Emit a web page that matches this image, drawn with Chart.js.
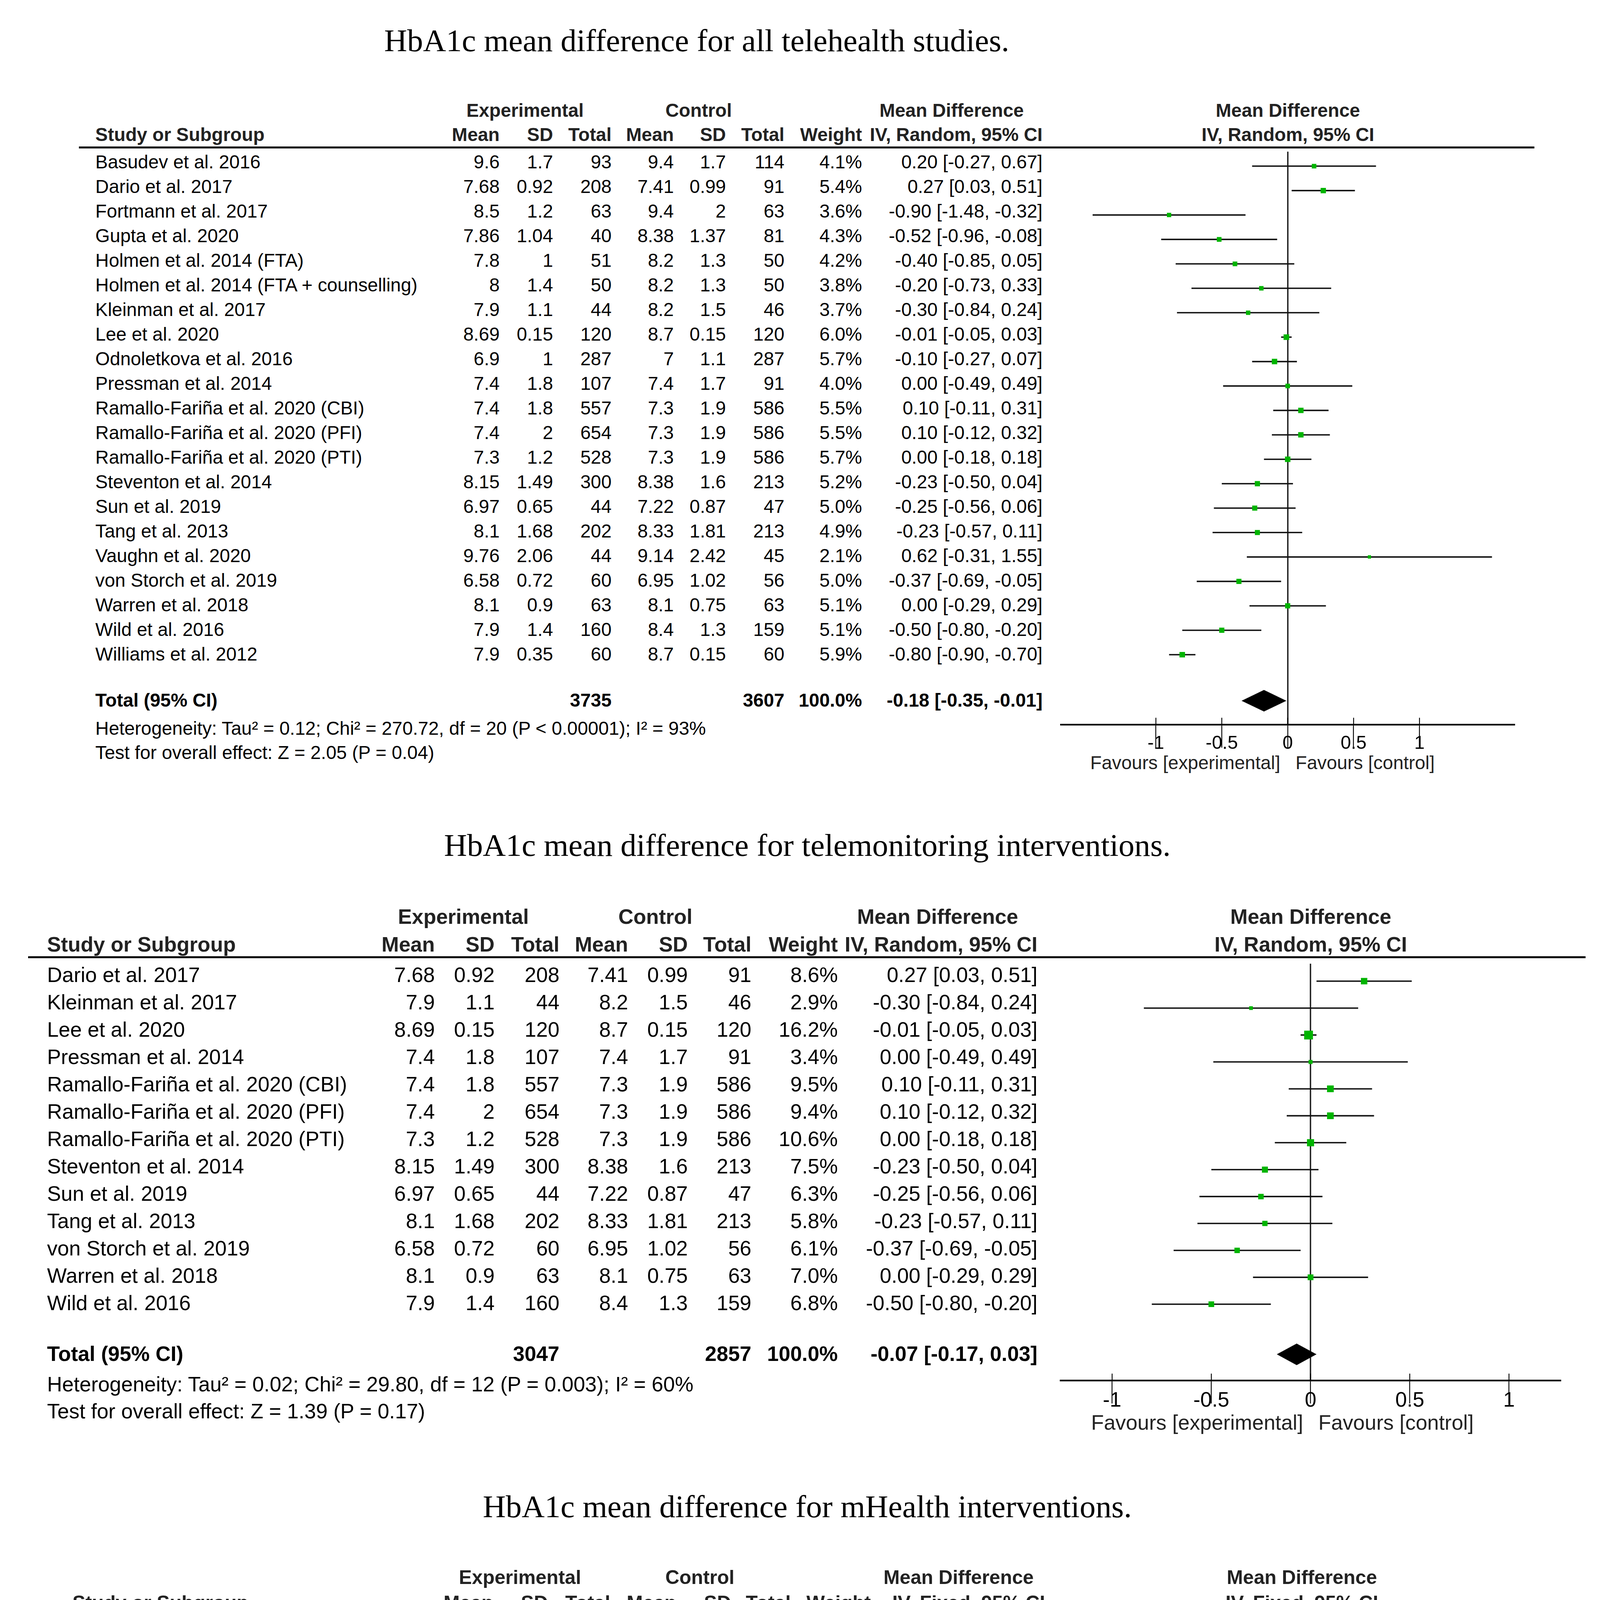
<!DOCTYPE html>
<html>
<head>
<meta charset="utf-8">
<script src="https://cdn.jsdelivr.net/npm/chart.js@4.4.1/dist/chart.umd.min.js"></script>
<style>
html, body { margin: 0; padding: 0; background: #fff; }
#page { position: relative; width: 4166px; height: 5132px; overflow: hidden; font-family: "Liberation Sans", Arial, sans-serif; color: #000; }
.t { position: absolute; white-space: nowrap; line-height: 1; }
.rule { position: absolute; background: #000; }
canvas { position: absolute; }
</style>
</head>
<body>
<div id="page"></div>
<script>
// ---- data ----
const studies = [
    'Basudev et al. 2016', 'Dario et al. 2017', 'Fortmann et al. 2017', 'Gupta et al. 2020',
    'Holmen et al. 2014 (FTA)', 'Holmen et al. 2014 (FTA + counselling)', 'Kleinman et al. 2017',
    'Lee et al. 2020', 'Odnoletkova et al. 2016', 'Pressman et al. 2014',
    'Ramallo-Fariña et al. 2020 (CBI)', 'Ramallo-Fariña et al. 2020 (PFI)', 'Ramallo-Fariña et al. 2020 (PTI)',
    'Steventon et al. 2014', 'Sun et al. 2019', 'Tang et al. 2013', 'Vaughn et al. 2020',
    'von Storch et al. 2019', 'Warren et al. 2018', 'Wild et al. 2016', 'Williams et al. 2012'
];
const expMean  = [9.6, 7.68, 8.5, 7.86, 7.8, 8, 7.9, 8.69, 6.9, 7.4, 7.4, 7.4, 7.3, 8.15, 6.97, 8.1, 9.76, 6.58, 8.1, 7.9, 7.9];
const expSD    = [1.7, 0.92, 1.2, 1.04, 1, 1.4, 1.1, 0.15, 1, 1.8, 1.8, 2, 1.2, 1.49, 0.65, 1.68, 2.06, 0.72, 0.9, 1.4, 0.35];
const expTotal = [93, 208, 63, 40, 51, 50, 44, 120, 287, 107, 557, 654, 528, 300, 44, 202, 44, 60, 63, 160, 60];
const ctlMean  = [9.4, 7.41, 9.4, 8.38, 8.2, 8.2, 8.2, 8.7, 7, 7.4, 7.3, 7.3, 7.3, 8.38, 7.22, 8.33, 9.14, 6.95, 8.1, 8.4, 8.7];
const ctlSD    = [1.7, 0.99, 2, 1.37, 1.3, 1.3, 1.5, 0.15, 1.1, 1.7, 1.9, 1.9, 1.9, 1.6, 0.87, 1.81, 2.42, 1.02, 0.75, 1.3, 0.15];
const ctlTotal = [114, 91, 63, 81, 50, 50, 46, 120, 287, 91, 586, 586, 586, 213, 47, 213, 45, 56, 63, 159, 60];
const meanDiff = [0.20, 0.27, -0.90, -0.52, -0.40, -0.20, -0.30, -0.01, -0.10, 0.00, 0.10, 0.10, 0.00, -0.23, -0.25, -0.23, 0.62, -0.37, 0.00, -0.50, -0.80];
const ciLow    = [-0.27, 0.03, -1.48, -0.96, -0.85, -0.73, -0.84, -0.05, -0.27, -0.49, -0.11, -0.12, -0.18, -0.50, -0.56, -0.57, -0.31, -0.69, -0.29, -0.80, -0.90];
const ciHigh   = [0.67, 0.51, -0.32, -0.08, 0.05, 0.33, 0.24, 0.03, 0.07, 0.49, 0.31, 0.32, 0.18, 0.04, 0.06, 0.11, 1.55, -0.05, 0.29, -0.20, -0.70];

const allWeights = [4.1, 5.4, 3.6, 4.3, 4.2, 3.8, 3.7, 6.0, 5.7, 4.0, 5.5, 5.5, 5.7, 5.2, 5.0, 4.9, 2.1, 5.0, 5.1, 5.1, 5.9];

const teleStudies = [
    'Dario et al. 2017', 'Kleinman et al. 2017', 'Lee et al. 2020', 'Pressman et al. 2014',
    'Ramallo-Fariña et al. 2020 (CBI)', 'Ramallo-Fariña et al. 2020 (PFI)', 'Ramallo-Fariña et al. 2020 (PTI)',
    'Steventon et al. 2014', 'Sun et al. 2019', 'Tang et al. 2013', 'von Storch et al. 2019',
    'Warren et al. 2018', 'Wild et al. 2016'
];
const teleWeights = [8.6, 2.9, 16.2, 3.4, 9.5, 9.4, 10.6, 7.5, 6.3, 5.8, 6.1, 7.0, 6.8];

const mhealthStudies = [
    'Fortmann et al. 2017', 'Holmen et al. 2014 (FTA)', 'Holmen et al. 2014 (FTA + counselling)',
    'Kleinman et al. 2017', 'Ramallo-Fariña et al. 2020 (CBI)', 'Ramallo-Fariña et al. 2020 (PFI)',
    'Ramallo-Fariña et al. 2020 (PTI)', 'Sun et al. 2019', 'Vaughn et al. 2020'
];
const mhealthWeights = [3.1, 5.0, 3.6, 3.5, 22.1, 21.6, 29.8, 10.3, 1.2];

const panelTitles = [
    'HbA1c mean difference for all telehealth studies.',
    'HbA1c mean difference for telemonitoring interventions.',
    'HbA1c mean difference for mHealth interventions.'
];
const methodLabels = ['IV, Random, 95% CI', 'IV, Random, 95% CI', 'IV, Fixed, 95% CI'];
const pooledExpN = [3735, 3047, 2035];
const pooledCtlN = [3607, 2857, 2059];
const pooledMD   = [-0.18, -0.07, -0.04];
const pooledLow  = [-0.35, -0.17, -0.14];
const pooledHigh = [-0.01, 0.03, 0.06];
const heterogeneity = [
    'Heterogeneity: Tau² = 0.12; Chi² = 270.72, df = 20 (P < 0.00001); I² = 93%',
    'Heterogeneity: Tau² = 0.02; Chi² = 29.80, df = 12 (P = 0.003); I² = 60%',
    'Heterogeneity: Chi² = 19.28, df = 8 (P = 0.01); I² = 59%'
];
const overallTest = [
    'Test for overall effect: Z = 2.05 (P = 0.04)',
    'Test for overall effect: Z = 1.39 (P = 0.17)',
    'Test for overall effect: Z = 0.78 (P = 0.44)'
];
const tickValues = [-1, -0.5, 0, 0.5, 1];
const tickLabels = ['-1', '-0.5', '0', '0.5', '1'];
const colHeads = ['Mean', 'SD', 'Total', 'Mean', 'SD', 'Total', 'Weight'];

// ---- layout (in 1280-wide reference units, scaled by S) ----
const S = 4166 / 1280;
const layouts = [
    { titleX: 548, titleY: 32, h1Y: 87, h2Y: 106, ruleY: 116, ruleX0: 62, ruleX1: 1207, nameX: 75,
      cols: [393, 435, 481, 530, 571, 617, 678, 820], expC: 413, ctlC: 549.5, mdC: 748.5,
      rowY0: 127.5, rowStep: 19.35, totalY: 551, axisY: 570, hetY: 573, testY: 592, favY: 600,
      zeroX: 1013, unit: 105.5, half: 1.72, font: 14.7, sq: 1.8 },
    { titleX: 635, titleY: 665, h1Y: 721, h2Y: 743, ruleY: 753, ruleX0: 22, ruleX1: 1247, nameX: 37,
      cols: [342, 389, 440, 494, 541, 591, 659, 816], expC: 364.5, ctlC: 515.5, mdC: 737.5,
      rowY0: 767, rowStep: 21.5, totalY: 1065, axisY: 1086, hetY: 1089, testY: 1110, favY: 1119,
      zeroX: 1031, unit: 160, half: 1.26, font: 16.4, sq: 1.72 },
    { titleX: 635, titleY: 1185, h1Y: 1241, h2Y: 1261, ruleY: 1271, ruleX0: 42, ruleX1: 1227, nameX: 57,
      cols: [388, 431, 480, 532, 575, 622, 685, 822], expC: 409, ctlC: 550.5, mdC: 754,
      rowY0: 1284, rowStep: 20.1, totalY: 1482, axisY: 1502, hetY: 1505, testY: 1525, favY: 1533,
      zeroX: 1024, unit: 168.5, half: 1.117, font: 15.3, sq: 1.6 }
];
const panelRows = [studies, teleStudies, mhealthStudies];
const panelWeights = [allWeights, teleWeights, mhealthWeights];

Chart.defaults.font.family = '"Liberation Sans", Arial, sans-serif';

const page = document.getElementById('page');

function addText(str, x, y, size, align, opts = {}) {
    const el = document.createElement('div');
    el.className = 't';
    el.textContent = str;
    el.style.fontSize = (size * S) + 'px';
    if (opts.bold) el.style.fontWeight = 'bold';
    if (opts.family) el.style.fontFamily = opts.family;
    if (opts.color) el.style.color = opts.color;
    el.style.left = (x * S) + 'px';
    el.style.top = (y * S) + 'px';
    const tx = align === 'right' ? '-100%' : (align === 'center' ? '-50%' : '0');
    el.style.transform = `translate(${tx}, -50%)`;
    page.appendChild(el);
}

function addRule(x0, x1, y, thick) {
    const el = document.createElement('div');
    el.className = 'rule';
    el.style.left = (x0 * S) + 'px';
    el.style.width = ((x1 - x0) * S) + 'px';
    el.style.top = ((y - thick / 2) * S) + 'px';
    el.style.height = (thick * S) + 'px';
    page.appendChild(el);
}

const fmt2 = v => v.toFixed(2);
const ciText = (m, lo, hi) => `${fmt2(m)} [${fmt2(lo)}, ${fmt2(hi)}]`;

// pooled estimate drawn as a diamond on the chart's own scales,
// plus the short stubs RevMan draws above the axis at each tick
const forestExtras = {
    id: 'forestExtras',
    afterDatasetsDraw(chart, args, opts) {
        const { ctx, scales: { x, y } } = chart;
        const yc = y.getPixelForValue(opts.row);
        ctx.save();
        ctx.beginPath();
        ctx.moveTo(x.getPixelForValue(opts.low), yc);
        ctx.lineTo(x.getPixelForValue(opts.mid), yc - opts.halfHeight);
        ctx.lineTo(x.getPixelForValue(opts.high), yc);
        ctx.lineTo(x.getPixelForValue(opts.mid), yc + opts.halfHeight);
        ctx.closePath();
        ctx.fillStyle = '#000';
        ctx.fill();

        ctx.strokeStyle = '#000';
        ctx.lineWidth = opts.stubWidth;
        x.ticks.forEach(t => {
            const px = x.getPixelForValue(t.value);
            ctx.beginPath();
            ctx.moveTo(px, x.top);
            ctx.lineTo(px, x.top - opts.stub);
            ctx.stroke();
        });
        ctx.restore();
    }
};

function drawTable(k) {
    const L = layouts[k];
    const f = L.font;
    addText(panelTitles[k], L.titleX, L.titleY, 25, 'center', { family: '"Liberation Serif", "Times New Roman", serif' });

    addText('Experimental', L.expC, L.h1Y, f, 'center', { bold: true, color: '#222' });
    addText('Control', L.ctlC, L.h1Y, f, 'center', { bold: true, color: '#222' });
    addText('Mean Difference', L.mdC, L.h1Y, f, 'center', { bold: true, color: '#222' });
    addText('Mean Difference', L.zeroX, L.h1Y, f, 'center', { bold: true, color: '#222' });

    addText('Study or Subgroup', L.nameX, L.h2Y, f, 'left', { bold: true, color: '#222' });
    colHeads.forEach((h, c) => addText(h, L.cols[c], L.h2Y, f, 'right', { bold: true, color: '#222' }));
    addText(methodLabels[k], L.cols[7], L.h2Y, f, 'right', { bold: true, color: '#222' });
    addText(methodLabels[k], L.zeroX, L.h2Y, f, 'center', { bold: true, color: '#222' });

    addRule(L.ruleX0, L.ruleX1, L.ruleY, 1.6);

    panelRows[k].forEach((name, i) => {
        const j = studies.indexOf(name);
        const y = L.rowY0 + i * L.rowStep;
        addText(name, L.nameX, y, f, 'left');
        const cells = [expMean[j], expSD[j], expTotal[j], ctlMean[j], ctlSD[j], ctlTotal[j]].map(String);
        cells.push(panelWeights[k][i].toFixed(1) + '%');
        cells.push(ciText(meanDiff[j], ciLow[j], ciHigh[j]));
        cells.forEach((c, col) => addText(c, L.cols[col], y, f, 'right'));
    });

    addText('Total (95% CI)', L.nameX, L.totalY, f, 'left', { bold: true });
    addText(String(pooledExpN[k]), L.cols[2], L.totalY, f, 'right', { bold: true });
    addText(String(pooledCtlN[k]), L.cols[5], L.totalY, f, 'right', { bold: true });
    addText('100.0%', L.cols[6], L.totalY, f, 'right', { bold: true });
    addText(ciText(pooledMD[k], pooledLow[k], pooledHigh[k]), L.cols[7], L.totalY, f, 'right', { bold: true });

    addText(heterogeneity[k], L.nameX, L.hetY, f, 'left');
    addText(overallTest[k], L.nameX, L.testY, f, 'left');

    addText('Favours [experimental]', L.zeroX - 6, L.favY, f, 'right', { color: '#222' });
    addText('Favours [control]', L.zeroX + 6, L.favY, f, 'left', { color: '#222' });
}

function drawForest(k) {
    const L = layouts[k];
    const axisH = 30;
    const left = L.zeroX - L.half * L.unit;
    const width = 2 * L.half * L.unit;
    const canvas = document.createElement('canvas');
    canvas.width = Math.round(width * S);
    canvas.height = Math.round((L.axisY - L.ruleY + axisH) * S);
    canvas.style.left = (left * S) + 'px';
    canvas.style.top = (L.ruleY * S) + 'px';
    page.appendChild(canvas);

    const idx = panelRows[k].map(n => studies.indexOf(n));
    const yMin = (L.ruleY - L.rowY0) / L.rowStep;
    const yMax = (L.axisY - L.rowY0) / L.rowStep;
    const totalRow = (L.totalY - L.rowY0) / L.rowStep;
    const arrow = 4.5;                    // arrow head radius (ref px)
    const lim = L.half - arrow / L.unit;  // keep arrow heads inside the axis
    const clamp = v => Math.max(-lim, Math.min(lim, v));

    const ciSets = idx.map((j, i) => {
        const cutL = ciLow[j] < -L.half;
        const cutR = ciHigh[j] > L.half;
        return {
            type: 'line',
            order: 2,
            clip: false,
            data: [{ x: clamp(ciLow[j]), y: i }, { x: clamp(ciHigh[j]), y: i }],
            borderColor: '#111',
            borderWidth: 1.1 * S,
            pointStyle: 'triangle',
            pointRotation: [-90, 90],
            pointRadius: [cutL ? arrow * S : 0, cutR ? arrow * S : 0],
            pointBackgroundColor: '#111',
            pointBorderWidth: 0
        };
    });

    const squares = {
        type: 'scatter',
        order: 1,
        data: idx.map((j, i) => ({ x: meanDiff[j], y: i })),
        pointStyle: 'rect',
        pointRadius: panelWeights[k].map(w => Math.max(2.4, L.sq * Math.sqrt(w)) * S / (2 * Math.SQRT1_2)),
        backgroundColor: '#00b400',
        borderWidth: 0
    };

    new Chart(canvas, {
        type: 'scatter',
        data: { datasets: [squares, ...ciSets] },
        options: {
            responsive: false,
            animation: false,
            devicePixelRatio: 1,
            events: [],
            layout: { padding: 0 },
            plugins: {
                legend: { display: false },
                tooltip: { enabled: false },
                forestExtras: {
                    row: totalRow, low: pooledLow[k], mid: pooledMD[k], high: pooledHigh[k],
                    halfHeight: 8.5 * S, stub: 5.5 * S, stubWidth: 0.7 * S
                }
            },
            scales: {
                x: {
                    type: 'linear',
                    position: 'bottom',
                    min: -L.half,
                    max: L.half,
                    afterBuildTicks: s => { s.ticks = tickValues.map(v => ({ value: v })); },
                    afterFit: s => { s.height = axisH * S; },
                    grid: {
                        drawOnChartArea: true,
                        color: c => (c.tick && c.tick.value === 0) ? '#222' : 'rgba(0,0,0,0)',
                        lineWidth: 1.1 * S,
                        tickColor: '#000',
                        tickWidth: 0.7 * S,
                        tickLength: 18 * S
                    },
                    border: { display: true, color: '#000', width: 1.3 * S },
                    ticks: {
                        autoSkip: false,
                        maxRotation: 0,
                        padding: -12 * S,
                        color: '#000',
                        font: { size: L.font * S },
                        callback: (v, i) => tickLabels[i]
                    }
                },
                y: { type: 'linear', display: false, reverse: true, min: yMin, max: yMax }
            }
        },
        plugins: [forestExtras]
    });
}

[0, 1, 2].forEach(k => {
    drawTable(k);
    drawForest(k);
});
</script>
</body>
</html>
